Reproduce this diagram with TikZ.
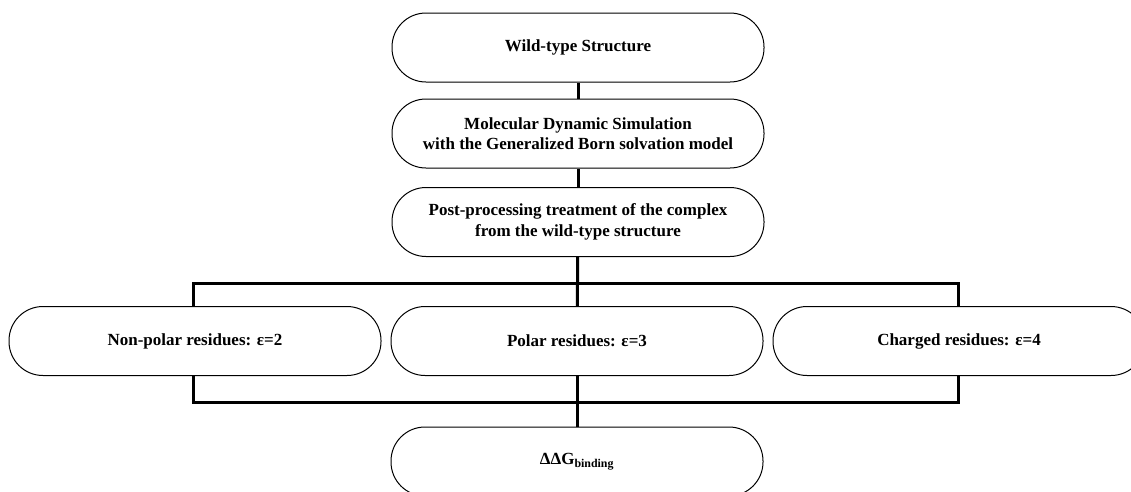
\documentclass[tikz,border=0pt]{standalone}
\usepackage{fontspec}
\setmainfont{Liberation Serif}
\usetikzlibrary{backgrounds}

\tikzset{
  stepbox/.style={draw,line width=1pt,fill=white,rounded corners=34pt,
    minimum width=372pt,minimum height=69pt,align=center,
    font=\bfseries\fontsize{17}{20.5}\selectfont},
  conn/.style={line width=3pt}
}

\begin{document}
\begin{tikzpicture}[x=1pt,y=-1pt]
    \useasboundingbox (0,0) rectangle (1131,491);
    \node[stepbox] (wild) at (578,47.5) {Wild-type Structure};
    \node[stepbox] (md) at (578,133.5)
      {Molecular Dynamic Simulation\\with the Generalized Born solvation model};
    \node[stepbox] (post) at (578,222)
      {Post-processing treatment of the complex\\from the wild-type structure};
    \node[stepbox] (nonpolar) at (195,341) {Non-polar residues: ε=2};
    \node[stepbox] (polar) at (577,341) {Polar residues: ε=3};
    \node[stepbox] (charged) at (959,341) {Charged residues: ε=4};
    \node[stepbox] (ddg) at (577,461.5)
      {ΔΔG\textsubscript{binding}};
    \coordinate (barTL) at (193,283);
    \coordinate (barBR) at (958,402);
    \begin{scope}[on background layer]
      \draw[conn] (wild)--(md);
      \draw[conn] (md)--(post);
      \draw[conn] (post)--(polar);
      \draw[conn] (polar)--(ddg);
      \draw[conn] (barTL) rectangle (barBR);
    \end{scope}
  \end{tikzpicture}
\end{document}
